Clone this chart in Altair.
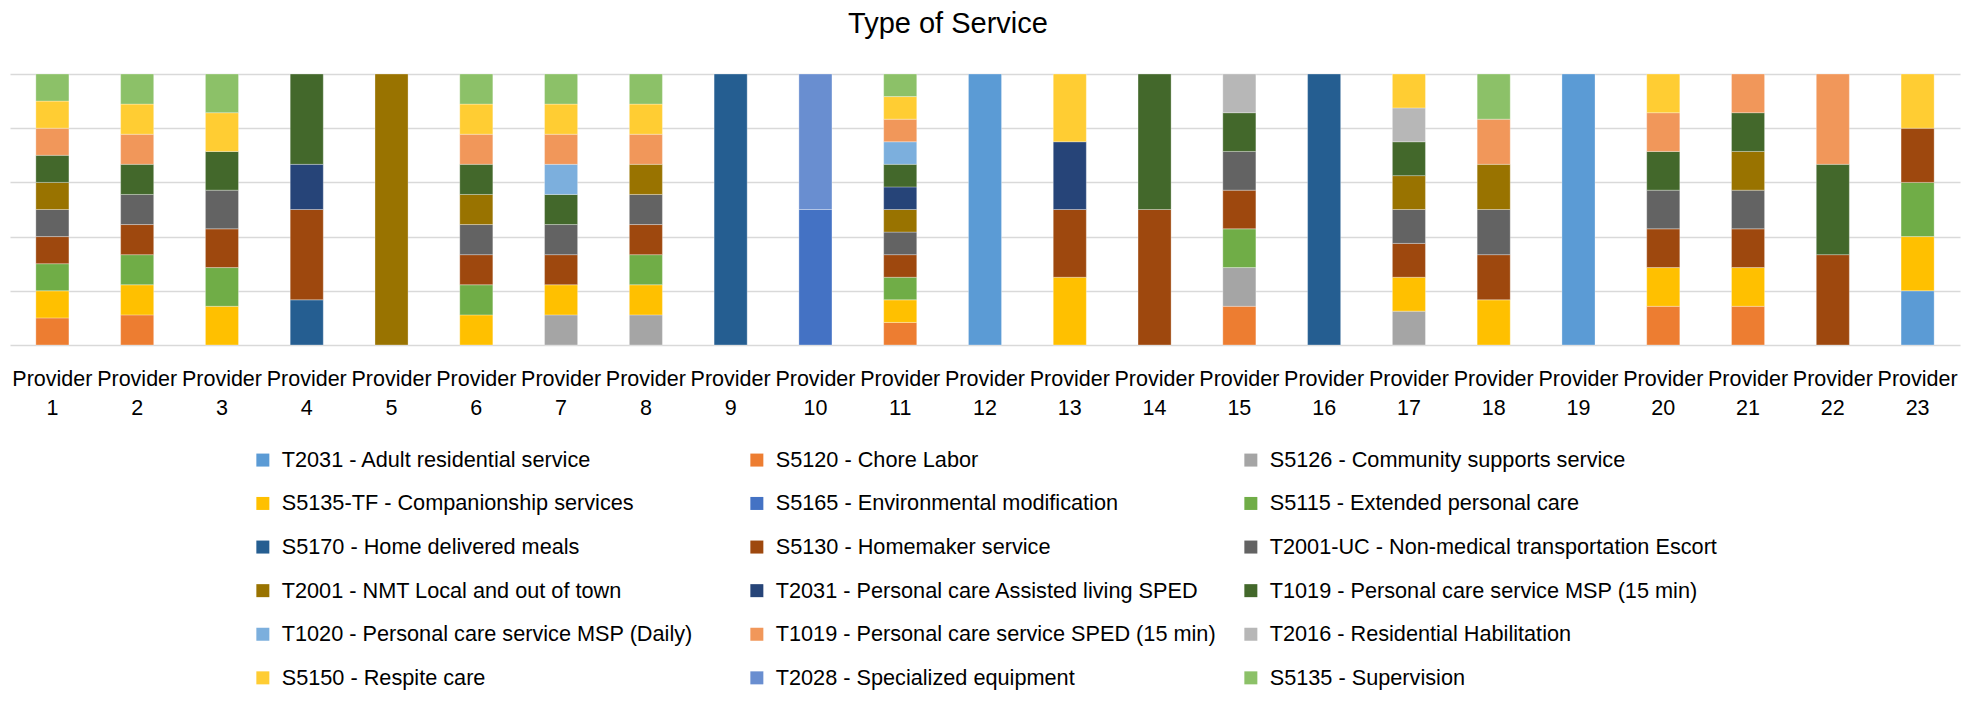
import altair as alt
import pandas as pd

providers = ["Provider 1", "Provider 2", "Provider 3", "Provider 4", "Provider 5", "Provider 6",
             "Provider 7", "Provider 8", "Provider 9", "Provider 10", "Provider 11", "Provider 12",
             "Provider 13", "Provider 14", "Provider 15", "Provider 16", "Provider 17", "Provider 18",
             "Provider 19", "Provider 20", "Provider 21", "Provider 22", "Provider 23"]

services = [
    "T2031 - Adult residential service",
    "S5120 - Chore  Labor",
    "S5126 - Community supports service",
    "S5135-TF - Companionship services",
    "S5165 - Environmental modification",
    "S5115 - Extended personal care",
    "S5170 - Home delivered meals",
    "S5130 - Homemaker service",
    "T2001-UC - Non-medical transportation  Escort",
    "T2001 - NMT  Local and out of town",
    "T2031 - Personal care  Assisted living  SPED",
    "T1019 - Personal care service  MSP (15 min)",
    "T1020 - Personal care service  MSP (Daily)",
    "T1019 - Personal care service  SPED (15 min)",
    "T2016 - Residential Habilitation",
    "S5150 - Respite care",
    "T2028 - Specialized equipment",
    "S5135 - Supervision",
]

colors = ["#5B9BD5", "#ED7D31", "#A5A5A5", "#FFC000", "#4472C4", "#70AD47",
          "#255E91", "#9E480E", "#636363", "#997300", "#264478", "#43682B",
          "#7CAFDD", "#F1975A", "#B7B7B7", "#FFCD33", "#698ED0", "#8CC168"]

#                       P1 2  3  4  5  6  7  8  9 10 11 12 13 14 15 16 17 18 19 20 21 22 23
adult_residential   = [0, 0, 0, 0, 0, 0, 0, 0, 0, 0, 0, 1, 0, 0, 0, 0, 0, 0, 1, 0, 0, 0, 1]
chore_labor         = [1, 1, 0, 0, 0, 0, 0, 0, 0, 0, 1, 0, 0, 0, 1, 0, 0, 0, 0, 1, 1, 0, 0]
community_supports  = [0, 0, 0, 0, 0, 0, 1, 1, 0, 0, 0, 0, 0, 0, 1, 0, 1, 0, 0, 0, 0, 0, 0]
companionship       = [1, 1, 1, 0, 0, 1, 1, 1, 0, 0, 1, 0, 1, 0, 0, 0, 1, 1, 0, 1, 1, 0, 1]
environmental_mod   = [0, 0, 0, 0, 0, 0, 0, 0, 0, 1, 0, 0, 0, 0, 0, 0, 0, 0, 0, 0, 0, 0, 0]
extended_pc         = [1, 1, 1, 0, 0, 1, 0, 1, 0, 0, 1, 0, 0, 0, 1, 0, 0, 0, 0, 0, 0, 0, 1]
home_meals          = [0, 0, 0, 1, 0, 0, 0, 0, 1, 0, 0, 0, 0, 0, 0, 1, 0, 0, 0, 0, 0, 0, 0]
homemaker           = [1, 1, 1, 2, 0, 1, 1, 1, 0, 0, 1, 0, 1, 1, 1, 0, 1, 1, 0, 1, 1, 1, 1]
nmt_escort          = [1, 1, 1, 0, 0, 1, 1, 1, 0, 0, 1, 0, 0, 0, 1, 0, 1, 1, 0, 1, 1, 0, 0]
nmt_local           = [1, 0, 0, 0, 1, 1, 0, 1, 0, 0, 1, 0, 0, 0, 0, 0, 1, 1, 0, 0, 1, 0, 0]
pc_assisted_sped    = [0, 0, 0, 1, 0, 0, 0, 0, 0, 0, 1, 0, 1, 0, 0, 0, 0, 0, 0, 0, 0, 0, 0]
pc_msp_15           = [1, 1, 1, 2, 0, 1, 1, 0, 0, 0, 1, 0, 0, 1, 1, 0, 1, 0, 0, 1, 1, 1, 0]
pc_msp_daily        = [0, 0, 0, 0, 0, 0, 1, 0, 0, 0, 1, 0, 0, 0, 0, 0, 0, 0, 0, 0, 0, 0, 0]
pc_sped_15          = [1, 1, 0, 0, 0, 1, 1, 1, 0, 0, 1, 0, 0, 0, 0, 0, 0, 1, 0, 1, 1, 1, 0]
residential_hab     = [0, 0, 0, 0, 0, 0, 0, 0, 0, 0, 0, 0, 0, 0, 1, 0, 1, 0, 0, 0, 0, 0, 0]
respite             = [1, 1, 1, 0, 0, 1, 1, 1, 0, 0, 1, 0, 1, 0, 0, 0, 1, 0, 0, 1, 0, 0, 1]
specialized_equip   = [0, 0, 0, 0, 0, 0, 0, 0, 0, 1, 0, 0, 0, 0, 0, 0, 0, 0, 0, 0, 0, 0, 0]
supervision         = [1, 1, 1, 0, 0, 1, 1, 1, 0, 0, 1, 0, 0, 0, 0, 0, 0, 1, 0, 0, 0, 0, 0]

series_values = [adult_residential, chore_labor, community_supports, companionship,
                 environmental_mod, extended_pc, home_meals, homemaker, nmt_escort,
                 nmt_local, pc_assisted_sped, pc_msp_15, pc_msp_daily, pc_sped_15,
                 residential_hab, respite, specialized_equip, supervision]

rows = []
for si, (svc, vals) in enumerate(zip(services, series_values)):
    for p, v in zip(providers, vals):
        if v > 0:
            rows.append({"provider": p, "service": svc, "value": v, "idx": si})
df = pd.DataFrame(rows)

FONT = "Liberation Sans"

chart = alt.Chart(df).mark_bar(stroke="white", strokeWidth=0.6, strokeOpacity=0.5).encode(
    x=alt.X("provider:N", sort=providers,
            scale=alt.Scale(paddingInner=0.61, paddingOuter=0.305),
            axis=alt.Axis(title=None, labelAngle=0, labelExpr="split(datum.label, ' ')",
                          labelFont=FONT, labelFontSize=21.5, labelColor="#000000",
                          labelLineHeight=29, labelBaseline="alphabetic", labelPadding=40,
                          ticks=False, domain=False, grid=False, labelOverlap=False)),
    y=alt.Y("value:Q", stack="normalize", scale=alt.Scale(domain=[0, 1], nice=False),
            axis=alt.Axis(title=None, labels=False, ticks=False, domain=False, grid=True,
                          values=[0, 0.2, 0.4, 0.6, 0.8, 1.0],
                          gridColor="#D9D9D9", gridWidth=1.6)),
    color=alt.Color("service:N", sort=services,
                    scale=alt.Scale(domain=services, range=colors),
                    legend=alt.Legend(orient="none", legendX=242, legendY=375, columns=3,
                                      direction="horizontal",
                                      title=None, symbolType="square", symbolSize=169,
                                      symbolStrokeWidth=0, labelFont=FONT, labelFontSize=21.7,
                                      labelColor="#000000", labelLimit=800, labelOffset=8,
                                      columnPadding=11, rowPadding=20.6, gridAlign="all",
                                      padding=0)),
    order=alt.Order("idx:Q", sort="ascending"),
).properties(
    width=1950,
    height=271,
    title=alt.TitleParams("Type of Service", font=FONT, fontSize=29, fontWeight="normal",
                          color="#000000", dx=-37, offset=12, baseline="alphabetic"),
    autosize=alt.AutoSizeParams(type="none"),
    padding={"left": 2, "top": 66, "right": 16, "bottom": 348},
).configure_view(stroke=None)

chart.save("out.html", embed_options={"renderer": "svg", "actions": False})
